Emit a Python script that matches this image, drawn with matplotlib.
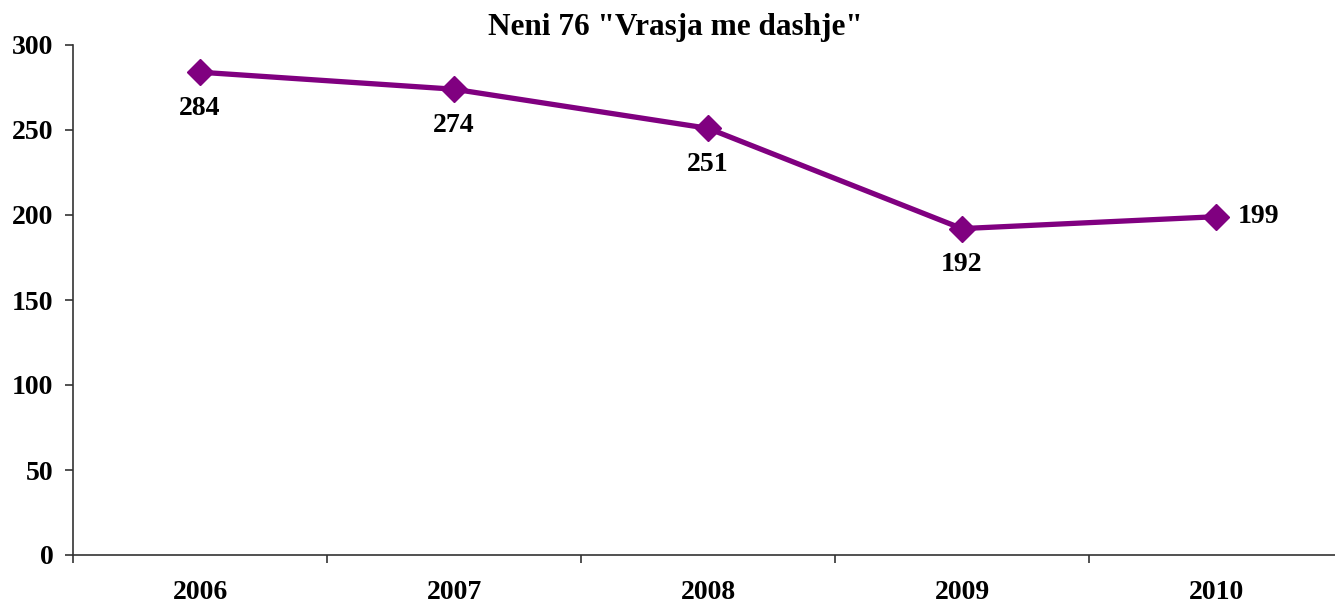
import numpy as np
import matplotlib as mpl
import matplotlib.pyplot as plt

years = ['2006', '2007', '2008', '2009', '2010']
cases = [284, 274, 251, 192, 199]
y_ticks = [0, 50, 100, 150, 200, 250, 300]

plt.rcParams['font.family'] = ['Liberation Serif', 'DejaVu Serif']
plt.rcParams['font.weight'] = 'bold'

fig = plt.figure(figsize=(13.35, 6.06), dpi=100)
# the category axis runs a little past the right edge of the picture
ax = fig.add_axes([73/1335, 1-555/606, 1270/1335, (555-45)/606])

x = np.arange(len(years))
ax.plot(x, cases, '-D', color='#800080', lw=3.8, ms=13, clip_on=False)

# data labels: last one sits to the right, the rest below the point
for i, v in enumerate(cases):
    if i == len(cases) - 1:
        ax.annotate(str(v), (x[i], v), xytext=(16, 0), textcoords='offset points',
                    ha='left', va='center', fontsize=20, fontweight='bold')
    else:
        ax.annotate(str(v), (x[i], v), xytext=(0, -26), textcoords='offset points',
                    ha='center', va='center', fontsize=20, fontweight='bold')

ax.set_xlim(-0.5, len(years) - 0.5)
ax.set_ylim(0, 300)
ax.set_yticks(y_ticks)
ax.set_yticklabels([str(t) for t in y_ticks], fontsize=20, fontweight='bold')
ax.set_xticks(x)
ax.set_xticklabels(years, fontsize=20, fontweight='bold')
ax.tick_params(axis='x', length=0, pad=18)
ax.set_xticks(np.arange(len(years) + 1) - 0.5, minor=True)
ax.tick_params(axis='x', which='minor', length=6, width=1.2, color='#333333')
ax.tick_params(axis='y', length=6, width=1.2, color='#333333', pad=8)

for s in ['top', 'right']:
    ax.spines[s].set_visible(False)
for s in ['left', 'bottom']:
    ax.spines[s].set_color('#333333')
    ax.spines[s].set_linewidth(1.2)

fig.text(675/1335, 1-27/606, 'Neni 76 "Vrasja me dashje"', ha='center', va='center',
         fontsize=22.5, fontweight='bold')

plt.savefig('out.png', dpi=100)
